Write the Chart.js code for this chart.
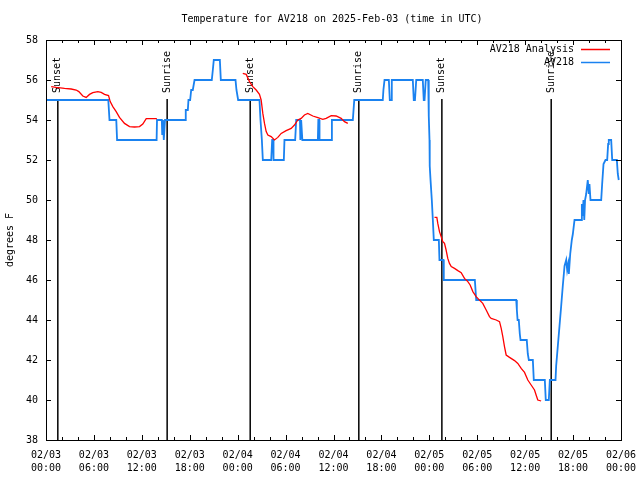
<!DOCTYPE html>
<html>
<head>
    <title>Temperature for AV218 on 2025-Feb-03</title>
    <script src="https://cdn.jsdelivr.net/npm/chart.js"></script>
    <style>
        body {
            margin: 0;
            background-color: #ffffff;
        }
        #wrap {
            width: 640px;
            height: 480px;
        }
    </style>
</head>
<body>
    <div id="wrap">
        <canvas id="tempChart" width="640" height="480"></canvas>
    </div>

    <script>
        // hours after 2025-02-03 00:00 UTC
        var obsHours = [0, 7.80, 7.95, 8.80, 8.90, 13.85, 13.90, 14.50, 14.55, 14.65, 14.75, 14.90,
            17.43, 17.50, 17.76, 17.84, 18.05, 18.18, 18.38, 18.60, 20.76, 20.89, 21.01, 21.77, 21.89,
            23.73, 23.85, 24.06, 26.73, 26.86, 27.03, 27.15, 28.20, 28.32, 28.45, 28.49, 29.78, 29.86,
            31.20, 31.33, 31.80, 31.85, 31.95, 32.05, 32.10, 34.04, 34.10, 34.20, 34.25, 35.71, 35.80,
            38.42, 38.60, 42.17, 42.25, 42.39, 42.93, 43.05, 43.20, 43.30, 45.93, 46.05, 46.20, 46.36,
            47.18, 47.30, 47.40, 47.55, 47.86, 47.93, 48.02, 48.05, 48.15, 48.31, 48.44, 48.56, 49.19,
            49.27, 49.77, 49.81, 53.70, 53.87, 58.88, 58.96, 59.05, 59.20, 59.33, 59.42, 60.20, 60.33,
            60.46, 60.96, 61.08, 62.46, 62.58, 62.96, 63.09, 63.80, 63.88, 64.09, 64.30, 64.51, 64.71,
            64.93, 65.14, 65.26, 65.39, 65.47, 65.64, 65.84, 65.97, 66.18, 67.02, 67.10, 67.20, 67.30,
            67.40, 67.50, 67.64, 67.84, 67.97, 68.05, 68.18, 69.52, 69.64, 69.81, 70.06, 70.27, 70.39,
            70.47, 70.77, 70.90, 71.48, 71.60, 71.72];
        var obsTemps = [55, 55, 54, 54, 53, 53, 54, 54, 53.3, 54, 53, 54,
            54, 54.5, 54.5, 55, 55, 55.5, 55.5, 56, 56, 56.5, 57, 57, 56,
            56, 55.5, 55, 55, 54, 53, 52, 52, 53, 53, 52, 52, 53,
            53, 54, 54, 53, 54, 54, 53, 53, 54, 54, 53, 53, 54,
            54, 55, 55, 55.5, 56, 56, 55, 55, 56, 56, 55, 55, 56,
            56, 55, 55, 56, 56, 54.2, 53, 51.7, 51, 50, 49, 48, 48,
            47, 47, 46, 46, 45, 45, 44.5, 44, 44, 43.3, 43, 43, 42.3,
            42, 42, 41, 41, 40, 40, 41, 41, 41.7, 42.7, 43.7, 44.7, 45.7,
            46.7, 47, 46.5, 46.8, 46.3, 47.3, 48, 48.3, 49, 49, 49.8, 49.2, 50,
            49, 50, 50.3, 51, 50.3, 50.8, 50, 50, 50.8, 51.8, 52, 52, 52.8,
            53, 53, 52, 52, 51.3, 51];

        var anaHours = [0.65, 1.27, 2.32, 3.15, 3.78, 4.11, 4.61, 5.03, 5.45, 5.86, 6.49, 6.91, 7.33,
            7.83, 8.04, 8.37, 8.79, 9.20, 9.83, 10.46, 11.08, 11.71, 12.12, 12.55, 13.88,
            19.0,
            24.64, 25.07, 25.48, 25.90, 26.32, 26.73, 26.94, 27.15, 27.36, 27.57, 27.78, 28.19, 28.61,
            29.03, 29.45, 30.07, 30.70, 31.11, 31.53, 31.95, 32.36, 32.78, 33.41, 34.04, 34.66, 35.08,
            35.71, 36.33, 36.96, 37.37, 37.79,
            43.0,
            48.65, 48.94, 49.06, 49.27, 49.48, 49.69, 49.90, 50.10, 50.31, 50.52, 50.74, 51.15, 51.57,
            51.99, 52.40, 52.82, 53.11, 53.45, 53.86, 54.19, 54.69, 55.12, 55.53, 55.75, 56.37, 56.79,
            57.00, 57.20, 57.41, 57.62, 58.04, 58.67, 59.08, 59.50, 59.92, 60.33, 60.75, 61.17, 61.37,
            61.58, 62.00];
        var anaTemps = [55.67, 55.63, 55.58, 55.55, 55.5, 55.42, 55.2, 55.13, 55.28, 55.37, 55.42, 55.38, 55.28,
            55.22, 54.92, 54.67, 54.42, 54.13, 53.83, 53.67, 53.65, 53.67, 53.8, 54.07, 54.07,
            null,
            56.33, 56.28, 55.92, 55.67, 55.5, 55.28, 55.0, 54.33, 53.83, 53.42, 53.25, 53.17, 53.0,
            53.13, 53.33, 53.47, 53.58, 53.75, 54.0, 54.08, 54.25, 54.33, 54.2, 54.12, 54.03, 54.08,
            54.22, 54.2, 54.08, 53.92, 53.83,
            null,
            49.13, 49.13, 48.83, 48.42, 48.17, 47.92, 47.83, 47.5, 47.08, 46.83, 46.67, 46.58, 46.47,
            46.37, 46.08, 45.92, 45.75, 45.42, 45.17, 45.03, 44.83, 44.5, 44.17, 44.08, 44.0, 43.92,
            43.58, 43.17, 42.67, 42.25, 42.13, 41.97, 41.83, 41.58, 41.38, 41.0, 40.75, 40.5, 40.25,
            40.0, 39.95];

        var sunsetHours = [1.48, 25.57, 49.57];
        var sunriseHours = [15.17, 39.17, 63.26];
        var tickDays = ['02/03', '02/04', '02/05', '02/06'];
        var chartTitle = 'Temperature for AV218 on 2025-Feb-03 (time in UTC)';

        var fontFam = "'DejaVu Sans Mono', 'Liberation Mono', monospace";
        var txtFont = { family: fontFam, size: 10, weight: 'normal' };

        function toPoints(hours, temps) {
            var pts = [];
            for (var i = 0; i < hours.length; i++) {
                pts.push({ x: hours[i], y: temps[i] });
            }
            return pts;
        }

        function pad2(n) {
            return (n < 10 ? '0' : '') + n;
        }

        // title, sunrise / sunset lines, frame with inward ticks, legend
        var gnuplotLook = {
            id: 'gnuplotLook',
            beforeDatasetsDraw: function (chart) {
                var ctx = chart.ctx;
                var xs = chart.scales.x;
                var area = chart.chartArea;
                var marks = [];
                sunsetHours.forEach(function (h) { marks.push([h, 'Sunset']); });
                sunriseHours.forEach(function (h) { marks.push([h, 'Sunrise']); });
                ctx.save();
                ctx.fillStyle = '#000000';
                ctx.font = '10px ' + fontFam;
                ctx.textAlign = 'center';
                ctx.textBaseline = 'middle';
                ctx.fillText(chartTitle, 332, 19);

                ctx.strokeStyle = '#000000';
                ctx.lineWidth = 1.5;
                marks.forEach(function (m) {
                    var px = xs.getPixelForValue(m[0]);
                    ctx.beginPath();
                    ctx.moveTo(px, 99);
                    ctx.lineTo(px, area.bottom);
                    ctx.stroke();
                    ctx.save();
                    ctx.translate(px, 93);
                    ctx.rotate(-Math.PI / 2);
                    ctx.textAlign = 'left';
                    ctx.textBaseline = 'middle';
                    ctx.fillText(m[1], 0, 0);
                    ctx.restore();
                });
                ctx.restore();
            },
            afterDatasetsDraw: function (chart) {
                var ctx = chart.ctx;
                var xs = chart.scales.x;
                var ys = chart.scales.y;
                var a = chart.chartArea;
                ctx.save();
                ctx.strokeStyle = '#000000';
                ctx.lineWidth = 1;
                ctx.strokeRect(Math.round(a.left) + 0.5, Math.round(a.top) + 0.5,
                    Math.round(a.right - a.left), Math.round(a.bottom - a.top));
                ctx.beginPath();
                for (var h = 0; h <= 72; h += 2) {
                    var px = Math.round(xs.getPixelForValue(h)) + 0.5;
                    var len = (h % 6 === 0) ? 5 : 3;
                    ctx.moveTo(px, a.bottom);
                    ctx.lineTo(px, a.bottom - len);
                    ctx.moveTo(px, a.top);
                    ctx.lineTo(px, a.top + len);
                }
                for (var t = 38; t <= 58; t += 2) {
                    var py = Math.round(ys.getPixelForValue(t)) + 0.5;
                    ctx.moveTo(a.left, py);
                    ctx.lineTo(a.left + 5, py);
                    ctx.moveTo(a.right, py);
                    ctx.lineTo(a.right - 5, py);
                }
                ctx.stroke();

                // legend
                ctx.font = '10px ' + fontFam;
                ctx.textAlign = 'right';
                ctx.textBaseline = 'middle';
                ctx.fillStyle = '#000000';
                chart.data.datasets.forEach(function (ds, i) {
                    var ly = 49.5 + i * 13;
                    ctx.fillText(ds.label, 574, ly);
                    ctx.strokeStyle = ds.borderColor;
                    ctx.lineWidth = 1.5;
                    ctx.beginPath();
                    ctx.moveTo(581, ly);
                    ctx.lineTo(610, ly);
                    ctx.stroke();
                });
                ctx.restore();
            }
        };

        new Chart(document.getElementById('tempChart'), {
            type: 'line',
            data: {
                datasets: [{
                    label: 'AV218 Analysis',
                    data: toPoints(anaHours, anaTemps),
                    borderColor: '#ff0000',
                    borderWidth: 1.3,
                    pointRadius: 0,
                    tension: 0,
                    spanGaps: false,
                    fill: false
                }, {
                    label: 'AV218',
                    data: toPoints(obsHours, obsTemps),
                    borderColor: '#1a82f0',
                    borderWidth: 1.8,
                    pointRadius: 0,
                    tension: 0,
                    fill: false
                }]
            },
            options: {
                responsive: false,
                animation: false,
                layout: { padding: { left: 0, right: 19, top: 40, bottom: 0 } },
                plugins: {
                    legend: { display: false },
                    tooltip: { enabled: false },
                    title: { display: false }
                },
                scales: {
                    x: {
                        type: 'linear',
                        min: 0,
                        max: 72,
                        grid: { display: false, drawTicks: false },
                        border: { display: false },
                        ticks: {
                            stepSize: 6,
                            autoSkip: false,
                            maxRotation: 0,
                            padding: 9,
                            color: '#000000',
                            font: { family: fontFam, size: 10, lineHeight: 1.3 },
                            callback: function (v) {
                                return [tickDays[Math.floor(v / 24)], pad2(v % 24) + ':00'];
                            }
                        },
                        afterFit: function (s) {
                            s.height = 40;
                            s.paddingLeft = 0;
                            s.paddingRight = 0;
                        }
                    },
                    y: {
                        min: 38,
                        max: 58,
                        grid: { display: false, drawTicks: false },
                        border: { display: false },
                        ticks: {
                            stepSize: 2,
                            padding: 8,
                            color: '#000000',
                            font: txtFont
                        },
                        title: {
                            display: true,
                            text: 'degrees F',
                            color: '#000000',
                            font: txtFont,
                            padding: { top: 4, bottom: 0 }
                        },
                        afterFit: function (s) {
                            s.width = 46;
                            s.paddingTop = 0;
                            s.paddingBottom = 0;
                        }
                    }
                }
            },
            plugins: [gnuplotLook]
        });
    </script>
</body>
</html>
